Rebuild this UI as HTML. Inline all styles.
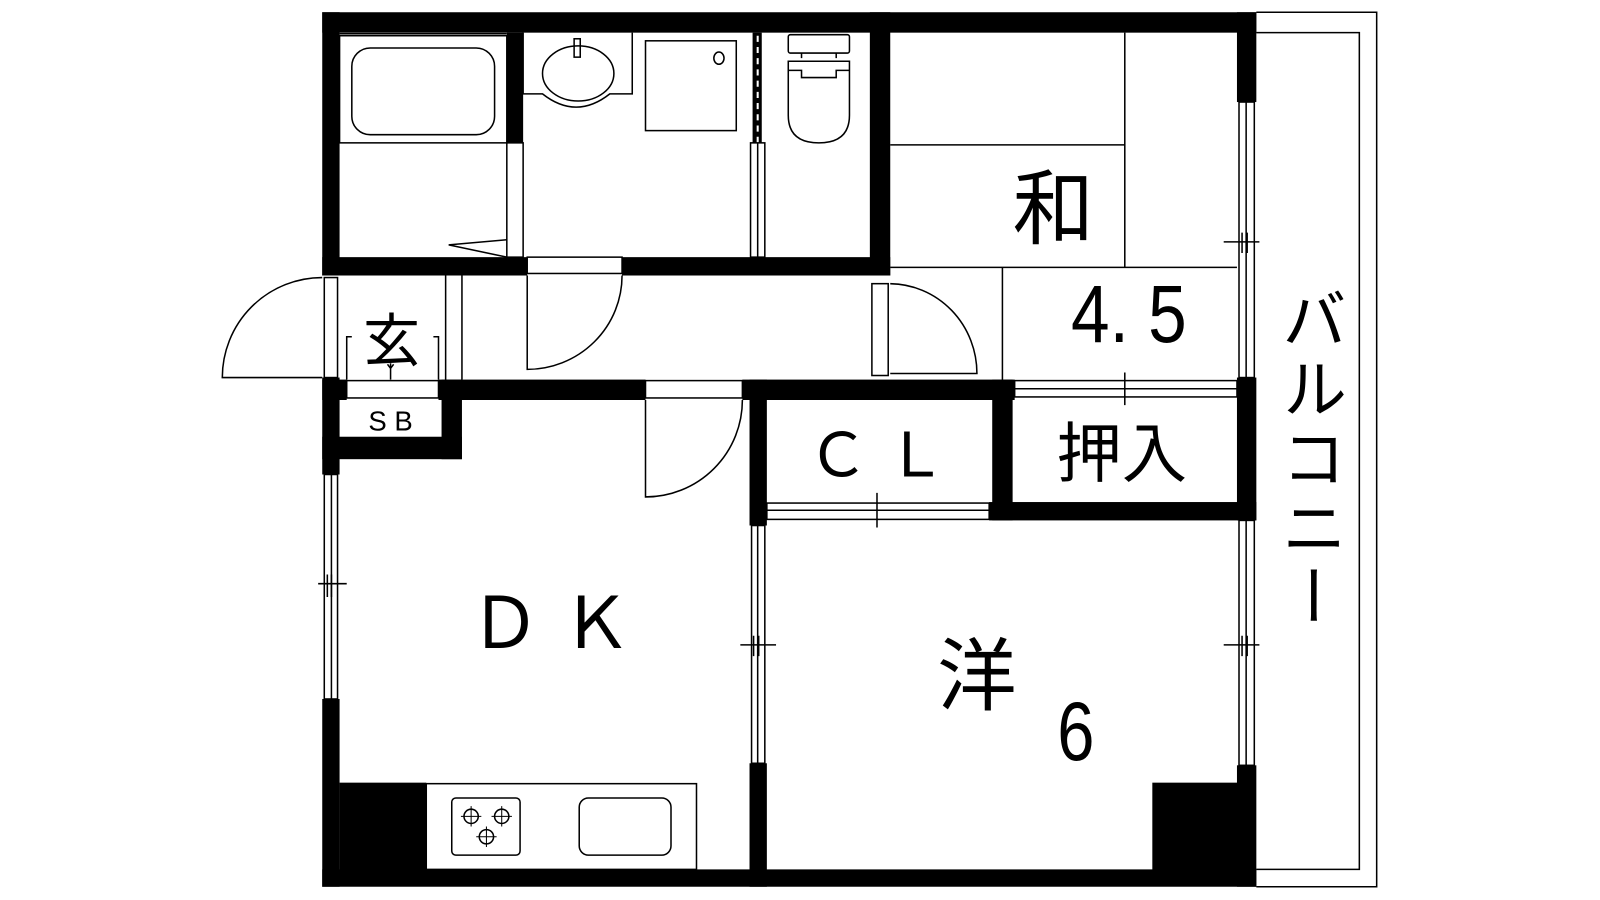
<!DOCTYPE html>
<html><head><meta charset="utf-8"><style>
html,body{margin:0;padding:0;background:#fff;width:1600px;height:900px;overflow:hidden}
svg{display:block}
text{font-family:"Liberation Sans","Noto Sans CJK JP",sans-serif;fill:#000}
</style></head><body>
<svg width="1600" height="900" viewBox="0 0 1569 882" preserveAspectRatio="none" xmlns="http://www.w3.org/2000/svg">
<g fill="#000">
<rect x="316" y="12" width="916" height="20"/>
<rect x="316" y="852" width="916" height="17"/>
<rect x="316" y="12" width="17" height="258"/>
<rect x="316" y="370" width="17" height="95"/>
<rect x="316" y="685" width="17" height="184"/>
<rect x="1213" y="12" width="19" height="88"/>
<rect x="1213" y="370" width="19" height="22"/>
<rect x="1213" y="392" width="19" height="118"/>
<rect x="1213" y="750" width="19" height="119"/>
<rect x="497" y="32" width="16" height="108"/>
<rect x="853" y="12" width="20" height="258"/>
<rect x="316" y="252" width="201" height="18"/>
<rect x="610" y="252" width="263" height="18"/>
<rect x="316" y="372" width="24" height="20"/>
<rect x="430" y="372" width="203" height="20"/>
<rect x="433" y="372" width="20" height="78"/>
<rect x="316" y="428" width="137" height="22"/>
<rect x="728" y="372" width="267" height="20"/>
<rect x="735" y="372" width="17" height="143"/>
<rect x="735" y="748" width="17" height="121"/>
<rect x="973" y="372" width="20" height="138"/>
<rect x="970" y="492" width="262" height="18"/>
<rect x="333" y="767" width="85" height="86"/>
<rect x="1130" y="767" width="84" height="86"/>
<rect x="738" y="32" width="9" height="108"/>
</g>
<g fill="none" stroke="#000" stroke-width="1.5">
<polyline points="1232,12 1350,12 1350,869 1232,869"/>
<polyline points="1232,32 1333,32 1333,852 1232,852"/>
<rect x="1215" y="100" width="15" height="270"/><line x1="1222" y1="100" x2="1222" y2="370"/>
<rect x="1215" y="510" width="15" height="240"/><line x1="1222" y1="510" x2="1222" y2="750"/>
<rect x="318" y="465" width="13" height="220"/><line x1="325" y1="465" x2="325" y2="685"/>
<rect x="737" y="515" width="13" height="233"/><line x1="743" y1="515" x2="743" y2="748"/>
<rect x="995" y="373" width="218" height="16"/><line x1="995" y1="381" x2="1213" y2="381"/>
<rect x="752" y="493" width="218" height="16"/><line x1="752" y1="500" x2="970" y2="500"/>
<path d="M1200 237h35M1218 228v20M1223 228v20"/>
<path d="M1200 632h35M1218 623v20M1223 623v20"/>
<path d="M312 572h28M321 563v22M325 563v22"/>
<path d="M726 632h35M739 623v20M744 623v20"/>
<path d="M1103 365v32M1095 381h25"/>
<path d="M860 483v34M842 500h35"/>
<rect x="333" y="35" width="164" height="105"/>
<rect x="345" y="47" width="140" height="85" rx="18"/>
<line x1="333" y1="33" x2="497" y2="33"/>
<rect x="497" y="140" width="16" height="112"/>
<path d="M497 235 L440 240 L497 252"/>
<path d="M513 32 V92 H532 Q565 118 598 92 H620 V32"/>
<ellipse cx="567" cy="72" rx="35" ry="27"/>
<rect x="563" y="38" width="6" height="18"/>
<rect x="633" y="40" width="89" height="88"/>
<ellipse cx="705" cy="57" rx="5" ry="6"/>
<line x1="743" y1="35" x2="743" y2="140" stroke="#fff" stroke-dasharray="6 5" stroke-width="2"/>
<rect x="736" y="140" width="14" height="112"/>
<line x1="743" y1="140" x2="743" y2="252"/>
<rect x="773" y="34" width="60" height="18" rx="2"/>
<path d="M786 52v5M820 52v5"/>
<path d="M773 60 H833 V113 Q833 140 803 140 Q773 140 773 113 Z"/>
<path d="M773 69 H786 V76 H820 V69 H833"/>
<rect x="517" y="252" width="93" height="16"/>
<path d="M517 270 V362 A93 92 0 0 0 610 270"/>
<rect x="633" y="373" width="95" height="17"/>
<path d="M633 392 V487 A95 95 0 0 0 728 392"/>
<rect x="855" y="278" width="16" height="90"/>
<path d="M873 366 H958 A86 88 0 0 0 873 278"/>
<rect x="318" y="272" width="13" height="98"/>
<path d="M316 370 H218 A98 98 0 0 1 316 272"/>
<path d="M437 270V372M453 270V372"/>
<path d="M345 330H340V372M425 330H430V372"/>
<path d="M383 356v16M380 357l3 4 3-4"/>
<rect x="340" y="373" width="90" height="17"/>
<path d="M1103 32V262M873 142H1103M873 262H1213M983 262V372"/>
<rect x="418" y="768" width="265" height="84"/>
<rect x="443" y="782" width="67" height="56" rx="4"/>
<rect x="568" y="782" width="90" height="56" rx="9"/>
<circle cx="462" cy="800" r="7"/><circle cx="492" cy="800" r="7"/><circle cx="477" cy="820" r="7"/>
<path d="M462 790v20M452 800h20M492 790v20M482 800h20M477 810v20M467 820h20" stroke-width="1"/>
</g>
<text x="1033" y="233" font-size="80" text-anchor="middle">和</text>
<text x="1107" y="335" font-size="80" text-anchor="middle" transform="translate(1107 0) scale(0.85 1) translate(-1107 0)">4. 5</text>
<text x="384" y="354" font-size="56" text-anchor="middle">玄</text>
<text x="383" y="422" font-size="27" text-anchor="middle">S B</text>
<text x="860" y="467" font-size="60" text-anchor="middle">Ｃ Ｌ</text>
<text x="1100" y="467" font-size="64" text-anchor="middle">押入</text>
<text x="540" y="635" font-size="70" text-anchor="middle">Ｄ Ｋ</text>
<text x="958" y="690" font-size="78" text-anchor="middle">洋</text>
<text x="1055" y="745" font-size="82" text-anchor="middle" transform="translate(1055 0) scale(0.8 1) translate(-1055 0)">6</text>
<text x="1283" y="280" font-size="64" text-anchor="start" style="writing-mode:vertical-rl;letter-spacing:4px">バルコニー</text>
</svg>
</body></html>
